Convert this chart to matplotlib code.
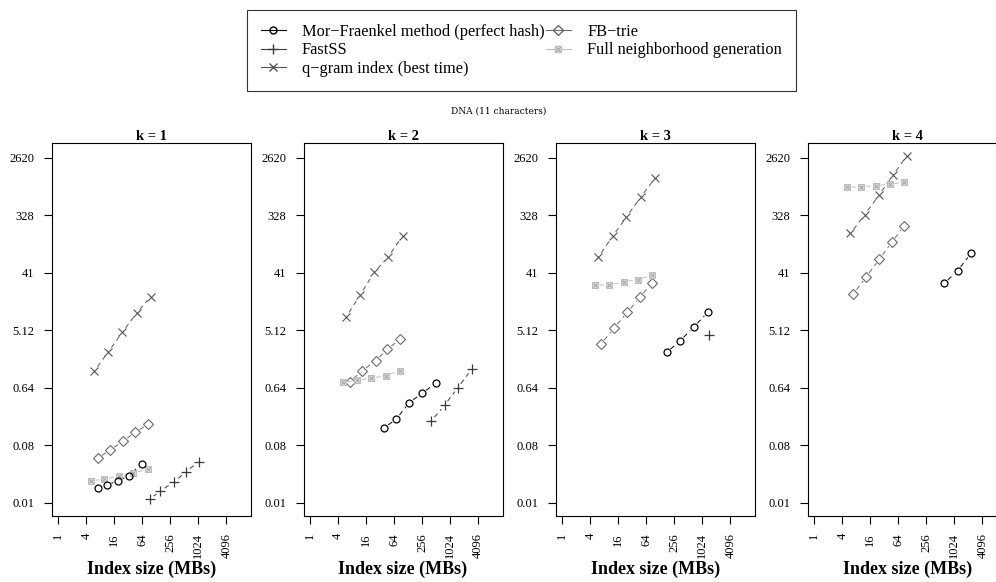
import numpy as np
import matplotlib
matplotlib.use("Agg")
import matplotlib.pyplot as plt
from matplotlib.lines import Line2D
from matplotlib.legend_handler import HandlerTuple

plt.rcParams["font.family"] = ["Liberation Serif", "DejaVu Serif"]

# one list per panel (k = 1..4); x = index size (MB), y = time
k_values = [1, 2, 3, 4]

mf_x = [[7.3, 11, 19, 33, 62], [39, 72, 134, 256, 497], [176, 340, 671, 1342], [617, 1200, 2320]]
mf_y = [[0.0168, 0.019, 0.022, 0.0265, 0.041], [0.150, 0.206, 0.373, 0.522, 0.750],
        [2.30, 3.47, 5.75, 9.76], [27.9, 43.5, 82]]

fastss_x = [[92, 157, 313, 557, 1045], [399, 776, 1499, 2955], [1390], []]
fastss_y = [[0.0114, 0.0153, 0.0214, 0.0307, 0.044], [0.192, 0.338, 0.64, 1.24], [4.25], []]

qgram_x = [[6, 12, 24, 48, 97], [6, 12, 24, 48, 97], [6, 12.2, 24, 49, 97.6], [6, 12.2, 24.4, 49, 97.6]]
qgram_y = [[1.18, 2.35, 4.79, 9.42, 17.2], [8.33, 18.5, 41.5, 72.9, 154],
           [72.2, 154, 309, 631, 1238], [170, 333, 672, 1386, 2800]]

fb_x = [[7, 13, 25, 45, 86], [7.1, 13.1, 25.5, 46, 84], [6.8, 13, 25.2, 47, 85], [6.96, 13, 25.2, 46.4, 85]]
fb_y = [[0.0498, 0.0672, 0.093, 0.128, 0.170], [0.794, 1.17, 1.70, 2.56, 3.68],
        [3.1, 5.54, 9.76, 17.0, 28.5], [19.1, 35, 67, 123, 221]]

full_x = [[5, 9.7, 20.4, 40.8, 85], [5, 10, 20.5, 42, 84], [5, 10, 21, 42, 84], [5, 10.1, 20.7, 42, 84]]
full_y = [[0.0219, 0.0236, 0.026, 0.0293, 0.0338], [0.777, 0.836, 0.899, 0.987, 1.17],
          [26.5, 25.9, 29.5, 31.7, 37.2], [895, 915, 952, 1000, 1074]]

y_ticks = [0.01, 0.08, 0.64, 5.12, 40.96, 327.68, 2621.44]
y_labels = ["0.01", "0.08", "0.64", "5.12", "41", "328", "2620"]
x_ticks = [1, 4, 16, 64, 256, 1024, 4096]
x_labels = ["1", "4", "16", "64", "256", "1024", "4096"]

labels = ["Mor\u2212Fraenkel method (perfect hash)", "FastSS", "q\u2212gram index (best time)",
          "FB\u2212trie", "Full neighborhood generation"]

c_mf, c_fast, c_q, c_fb, c_full = "black", "#3a3a3a", "#555555", "#6a6a6a", "#bdbdbd"


def gap_line(ax, xs, ys, gap, **kw):
    # R type="b": lines stop short of the points
    if len(xs) < 2:
        return
    pts = ax.transData.transform(np.column_stack([xs, ys]))
    inv = ax.transData.inverted()
    for p0, p1 in zip(pts[:-1], pts[1:]):
        d = p1 - p0
        L = np.hypot(*d)
        if L <= 2 * gap + 1:
            continue
        u = d / L
        seg = inv.transform([p0 + u * gap, p1 - u * gap])
        ax.plot(seg[:, 0], seg[:, 1], **kw)


W, H = 996, 582
fig = plt.figure(figsize=(W / 100, H / 100), dpi=100)

lefts = [51.7, 303.5, 555.7, 807.7]
ax_w, top, bottom = 199, 142.7, 515.7

dash = dict(lw=0.7, linestyle=(0, (5, 4)))

for i, k in enumerate(k_values):
    ax = fig.add_axes([lefts[i] / W, 1 - bottom / H, ax_w / W, (bottom - top) / H])
    ax.set_xscale("log", base=2)
    ax.set_yscale("log", base=2)
    ax.set_xlim(2 ** -0.471, 2 ** 13.74)
    ax.set_ylim(0.00625, 4490)
    ax.minorticks_off()
    ax.set_yticks(y_ticks)
    ax.set_yticklabels(y_labels, fontsize=9)
    ax.set_xticks(x_ticks)
    ax.set_xticklabels(x_labels, fontsize=9, rotation=90)
    ax.tick_params(length=5.5, width=0.8, pad=7)
    for s in ax.spines.values():
        s.set_linewidth(0.8)
    ax.set_title(f"k = {k}", fontsize=10.5, fontweight="bold", pad=2)

    gap_line(ax, qgram_x[i], qgram_y[i], 5, color=c_q, **dash)
    gap_line(ax, fb_x[i], fb_y[i], 5, color=c_fb, **dash)
    gap_line(ax, full_x[i], full_y[i], 5, color=c_full, **dash)
    gap_line(ax, mf_x[i], mf_y[i], 5, color=c_mf, **dash)
    gap_line(ax, fastss_x[i], fastss_y[i], 5, color=c_fast, **dash)

    ax.plot(qgram_x[i], qgram_y[i], "x", color=c_q, ms=5.5, mew=0.8, ls="none")
    ax.plot(fb_x[i], fb_y[i], "D", color=c_fb, mfc="none", ms=5.3, mew=0.8, ls="none")
    ax.plot(full_x[i], full_y[i], "s", color=c_full, mfc="#dcdcdc", ms=5, mew=0.8, ls="none")
    ax.plot(full_x[i], full_y[i], "x", color="#9a9a9a", ms=3.2, mew=0.6, ls="none")
    ax.plot(mf_x[i], mf_y[i], "o", color=c_mf, mfc="none", ms=5, mew=0.9, ls="none")
    if fastss_x[i]:
        ax.plot(fastss_x[i], fastss_y[i], "+", color=c_fast, ms=7.5, mew=0.9, ls="none")

    fig.text((lefts[i] + ax_w / 2) / W, 1 - 569 / H, "Index size (MBs)",
             ha="center", va="center", fontsize=13, fontweight="bold")

fig.text(499 / W, 1 - 111 / H, "DNA (11 characters)", ha="center", va="center",
         fontsize=6.5, family="DejaVu Serif")

h_mf = Line2D([], [], color=c_mf, marker="o", mfc="none", ms=5, lw=0.8)
h_fast = Line2D([], [], color=c_fast, marker="+", ms=7.5, lw=0.8)
h_q = Line2D([], [], color=c_q, marker="x", ms=5.5, lw=0.8)
h_fb = Line2D([], [], color=c_fb, marker="D", mfc="none", ms=5.3, lw=0.8)
h_full = (Line2D([], [], color=c_full, marker="s", mfc="#dcdcdc", ms=5, lw=0.8),
          Line2D([], [], color="#9a9a9a", marker="x", ms=3.2, mew=0.6, ls="none"))

leg = fig.legend([h_mf, h_fast, h_q, h_fb, h_full], labels, ncol=2,
                 loc="upper left", bbox_to_anchor=(247 / W, 1 - 10 / H),
                 fontsize=11.8, frameon=True, fancybox=False, edgecolor="black",
                 handlelength=1.5, handletextpad=1.0, columnspacing=0.1,
                 labelspacing=0.15, borderpad=0.85, borderaxespad=0,
                 handler_map={tuple: HandlerTuple(ndivide=1)})
leg.get_frame().set_linewidth(0.8)

fig.savefig("out.png", dpi=100)
